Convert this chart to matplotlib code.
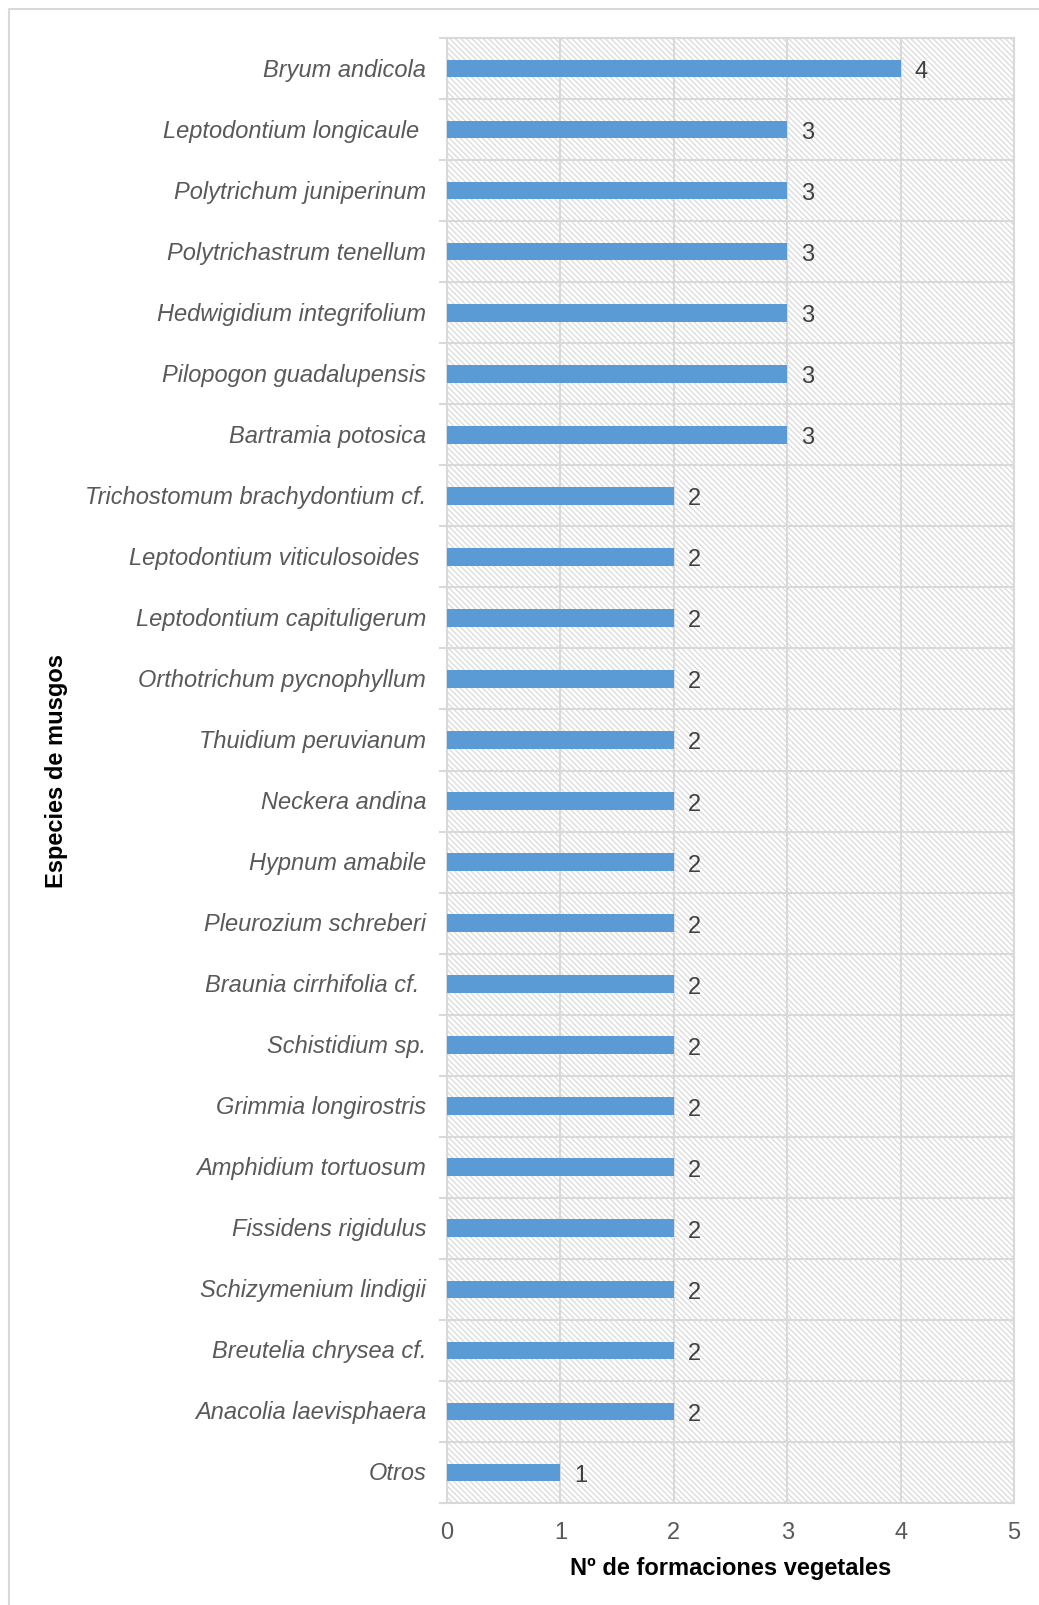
import matplotlib
matplotlib.use('Agg')
import matplotlib.pyplot as plt
from matplotlib.patches import Rectangle
from matplotlib.lines import Line2D
from matplotlib.transforms import ScaledTranslation
import numpy as np

plt.rcParams['font.family'] = ['Liberation Sans', 'DejaVu Sans']
plt.rcParams['hatch.color'] = '#dadada'
plt.rcParams['hatch.linewidth'] = 0.9

# 데이터 (위에서 아래 순서)
especies = ['Bryum andicola', 'Leptodontium longicaule ', 'Polytrichum juniperinum',
            'Polytrichastrum tenellum', 'Hedwigidium integrifolium', 'Pilopogon guadalupensis',
            'Bartramia potosica', 'Trichostomum brachydontium cf.', 'Leptodontium viticulosoides ',
            'Leptodontium capituligerum', 'Orthotrichum pycnophyllum', 'Thuidium peruvianum',
            'Neckera andina', 'Hypnum amabile', 'Pleurozium schreberi', 'Braunia cirrhifolia cf. ',
            'Schistidium sp.', 'Grimmia longirostris', 'Amphidium tortuosum', 'Fissidens rigidulus',
            'Schizymenium lindigii', 'Breutelia chrysea cf.', 'Anacolia laevisphaera', 'Otros']
formaciones = [4, 3, 3, 3, 3, 3, 3, 2, 2, 2, 2, 2, 2, 2, 2, 2, 2, 2, 2, 2, 2, 2, 2, 1]
xticks = [0, 1, 2, 3, 4, 5]

W, H = 1039, 1606
fig = plt.figure(figsize=(W / 100, H / 100), dpi=100)
ax = fig.add_axes([447 / W, 1 - 1504 / H, (1014 - 447) / W, (1504 - 39) / H])

y = np.arange(len(especies))

# 배경 빗금
bg = Rectangle((0, 0), 1, 1, transform=ax.transAxes, facecolor='white',
               edgecolor='#dadada', hatch='\\\\\\\\\\\\', linewidth=0, zorder=0)
ax.add_patch(bg)

ax.barh(y, formaciones, height=0.29, color='#5b9bd5', zorder=3)

for yi, v in zip(y, formaciones):
    ax.text(v + 0.12, yi, str(v), va='center_baseline', ha='left', fontsize=17,
            color='#404040', zorder=4)

ax.set_xlim(0, 5)
ax.set_ylim(len(especies) - 0.5, -0.5)
ax.set_xticks(xticks)
ax.set_yticks(y)
ax.set_yticklabels(especies, fontsize=17, style='italic', color='#595959')
ax.set_yticks(np.arange(len(especies) + 1) - 0.5, minor=True)
ax.tick_params(axis='y', which='major', length=0, pad=15)
ax.tick_params(axis='y', which='minor', length=5.5, width=1.5, color='#d9d9d9')
ax.tick_params(axis='x', which='major', length=0, pad=13, labelsize=17, labelcolor='#595959')

# 라벨 살짝 위로
up = ScaledTranslation(0, 2 / 100, fig.dpi_scale_trans)
for lbl in ax.get_yticklabels():
    lbl.set_transform(lbl.get_transform() + up)

ax.grid(True, which='minor', axis='y', color='#d9d9d9', linewidth=1.5, zorder=1)
ax.grid(True, which='major', axis='x', color='#d9d9d9', linewidth=1.5, zorder=1)
ax.set_axisbelow(True)

for s in ax.spines.values():
    s.set_color('#d9d9d9')
    s.set_linewidth(1.5)

ax.set_xlabel('Nº de formaciones vegetales', fontsize=17, fontweight='bold', labelpad=9)
ax.set_ylabel('Especies de musgos', fontsize=17, fontweight='bold')
ax.yaxis.set_label_coords((68 - 447) / (1014 - 447), 0.5)

# 바깥 테두리
fig.add_artist(Line2D([9 / W, 9 / W, 1.0], [0.0, 1 - 10 / H, 1 - 10 / H],
                      transform=fig.transFigure, color='#d9d9d9', linewidth=1.5))

fig.savefig('out.png', dpi=100)
